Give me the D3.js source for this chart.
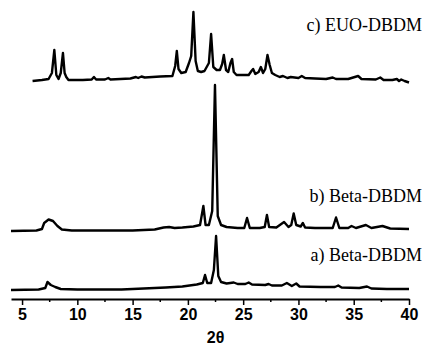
<!DOCTYPE html>
<html>
<head>
<meta charset="utf-8">
<script src="https://cdn.jsdelivr.net/npm/d3@7"></script>
<style>
  body { margin: 0; background: #fff; }
</style>
</head>
<body>
<div id="chart"></div>
<script>
const width = 424;
const height = 345;

// 2theta ticks
const xTicks = [5, 10, 15, 20, 25, 30, 35, 40];
const xMinorTicks = [7.5, 12.5, 17.5, 22.5, 27.5, 32.5, 37.5];

const labels = ["a) Beta-DBDM", "b) Beta-DBDM", "c) EUO-DBDM"];
// vertical stacking offsets (a.u.)
const offsets = [9, 68, 218];

// a) Beta-DBDM  [2theta, intensity]
const traceA = [
  [4.0, 0], [6.5, 0.5], [7.1, 2], [7.3, 8], [7.6, 5], [8.0, 3], [8.5, 1], [10, 0.5],
  [14, 0.5], [16, 1.5], [18, 2.5], [19.5, 3.5], [20.8, 5.5], [21.35, 7], [21.55, 15],
  [21.75, 7], [22.1, 7], [22.35, 20], [22.55, 54], [22.75, 14], [23.0, 8], [23.5, 6.5],
  [24.15, 7.5], [24.5, 6], [25.2, 6], [25.5, 7.5], [25.8, 5.5], [27.0, 5], [27.3, 6],
  [27.6, 4.5], [28.5, 4.5], [28.95, 7], [29.4, 4], [29.8, 6.5], [30.1, 3.5], [32, 3],
  [33.3, 3], [33.6, 4.5], [33.9, 2.5], [35.5, 2], [36.2, 3.5], [36.6, 1.5], [38, 1], [40, 1]
];

// b) Beta-DBDM
const traceB = [
  [4.0, 0], [6.3, 0.5], [6.8, 2], [7.0, 8], [7.4, 11.5], [7.8, 10], [8.2, 5], [8.6, 1.5],
  [9.5, 0.5], [12, 0.5], [15, 0.5], [17, 1.5], [17.8, 3.5], [18.3, 4], [18.8, 3], [19.5, 3.5],
  [20.5, 4.5], [21.1, 6], [21.4, 25], [21.6, 6], [21.9, 6], [22.2, 20], [22.45, 146],
  [22.7, 15], [23.0, 6], [23.5, 4], [24.5, 3], [25.1, 3], [25.35, 13], [25.6, 3], [26.5, 3],
  [26.95, 4], [27.15, 16], [27.35, 4], [28.0, 3.5], [28.7, 9], [29.1, 4], [29.35, 6],
  [29.57, 17.5], [29.8, 6], [30.2, 4.5], [30.4, 8], [30.6, 3.5], [31.5, 3], [33.1, 3],
  [33.4, 13.5], [33.7, 3], [34.5, 3], [34.8, 5], [35.2, 3], [36.1, 6], [36.6, 3], [37.6, 5],
  [38.3, 2.5], [40, 2]
];

// c) EUO-DBDM
const traceC = [
  [5.95, 0], [6.8, 1], [7.4, 2], [7.7, 8], [7.92, 31], [8.1, 6], [8.3, 2], [8.5, 8],
  [8.7, 28], [8.85, 8], [9.0, 4], [9.2, 1], [10.5, 1], [11.3, 1.5], [11.5, 4], [11.7, 1.5],
  [12.5, 1.5], [12.8, 3], [13.0, 1.5], [14.8, 2.5], [15.3, 4], [15.5, 3], [15.8, 4.5],
  [16.1, 3.5], [17.5, 4.5], [18.6, 5], [18.85, 15], [19.0, 30], [19.15, 12], [19.4, 8],
  [19.8, 9], [20.1, 18], [20.3, 25], [20.5, 69], [20.7, 20], [20.9, 10], [21.2, 9],
  [21.5, 10], [21.9, 18], [22.1, 47], [22.3, 14], [22.6, 11], [22.9, 11], [23.1, 17],
  [23.25, 26], [23.45, 11], [23.65, 9], [23.85, 18], [24.0, 22], [24.15, 9], [24.4, 6],
  [25.0, 6], [25.5, 6], [25.75, 10], [25.9, 12], [26.1, 7], [26.4, 9], [26.6, 14], [26.8, 8],
  [27.0, 12], [27.2, 26], [27.4, 16], [27.6, 8], [27.9, 6], [28.3, 4], [28.6, 5], [29.0, 3],
  [29.3, 4], [30.0, 3], [30.3, 5], [30.6, 3], [31.5, 2.5], [32.5, 2], [33.1, 3.5], [33.4, 2],
  [34.5, 2], [35.4, 5], [35.7, 2], [37.0, 1.5], [37.4, 3.5], [37.7, 1], [38.5, 1], [38.9, 2],
  [39.1, 0], [39.3, 1.5], [39.6, 0], [40, -1.5]
];

const traces = [traceA, traceB, traceC];
// label baselines in a.u.
const labelY = [38, 97, 268];

const axisY = 299;

const svg = d3.select("#chart")
  .append("svg")
  .attr("width", width)
  .attr("height", height);

const x = d3.scaleLinear()
  .domain([4, 40])
  .range([11, 409]);

const y = d3.scaleLinear()
  .domain([0, 300])
  .range([axisY, -1]);

const line = d3.line()
  .x(d => x(d[0]))
  .y(d => y(d[1]));

traces.forEach(function(tr, i) {
  svg.append("path")
    .datum(tr.map(d => [d[0], d[1] + offsets[i]]))
    .attr("d", line)
    .attr("fill", "none")
    .attr("stroke", "#000")
    .attr("stroke-width", 2.4)
    .attr("stroke-linejoin", "round");

  svg.append("text")
    .attr("x", 422)
    .attr("y", y(labelY[i]))
    .attr("text-anchor", "end")
    .style("font-family", "'Liberation Serif', 'Times New Roman', serif")
    .style("font-size", "18px")
    .text(labels[i]);
});

// x axis
const xAxis = d3.axisBottom(x)
  .tickValues(xTicks)
  .tickSize(6)
  .tickPadding(4)
  .tickSizeOuter(0);

const gx = svg.append("g")
  .attr("transform", "translate(0," + axisY + ")")
  .call(xAxis);

gx.select(".domain").attr("stroke-width", 2);
gx.selectAll(".tick line").attr("stroke-width", 1.5);
gx.selectAll(".tick text")
  .style("font-family", "'Liberation Sans', Arial, sans-serif")
  .style("font-size", "16px")
  .style("font-weight", "bold")
  .attr("fill", "#000");

gx.selectAll(".minor")
  .data(xMinorTicks)
  .enter()
  .append("line")
  .attr("x1", d => x(d))
  .attr("x2", d => x(d))
  .attr("y1", 0)
  .attr("y2", 3)
  .attr("stroke", "#000")
  .attr("stroke-width", 1.5);

svg.append("text")
  .attr("x", x(22.5))
  .attr("y", 343)
  .attr("text-anchor", "middle")
  .style("font-family", "'Liberation Sans', Arial, sans-serif")
  .style("font-size", "16px")
  .style("font-weight", "bold")
  .text("2θ");
</script>
</body>
</html>
